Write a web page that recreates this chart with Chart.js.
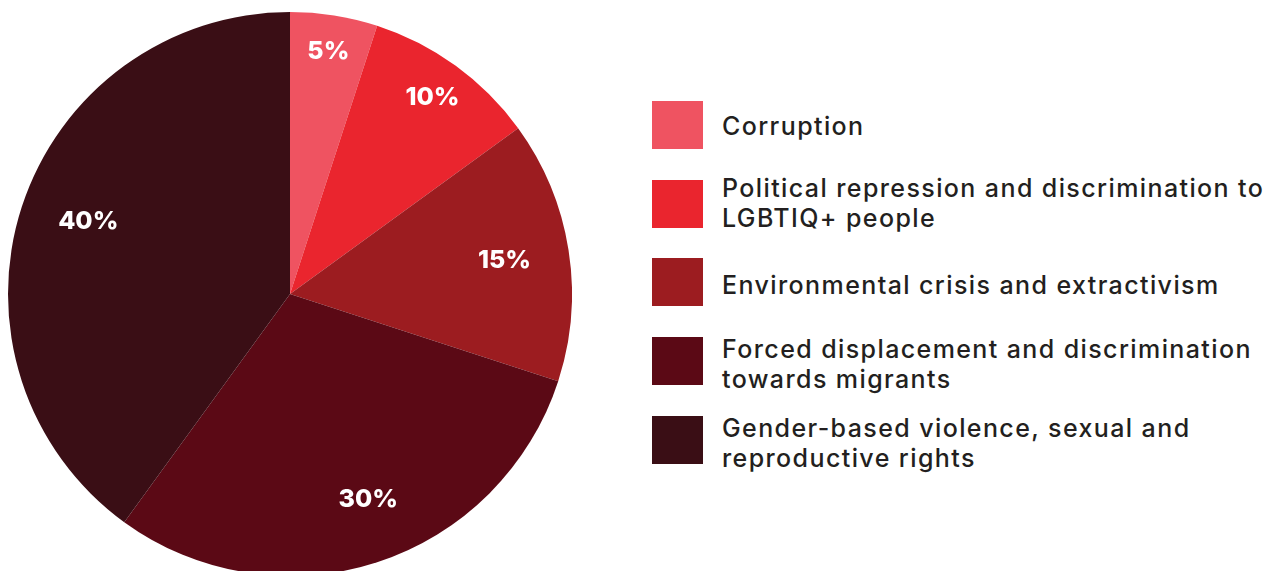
<!DOCTYPE html>
<html>
<head>
<meta charset="utf-8">
<script src="https://cdn.jsdelivr.net/npm/chart.js@4"></script>
<style>
	html, body { margin: 0; padding: 0; background: #fff; width: 1279px; height: 571px; overflow: hidden; }
	#pieBox { position: absolute; left: 8px; top: 12px; width: 564px; height: 564px; }
	#legend { position: absolute; left: 652px; top: 101px; font-family: "Inter", sans-serif; font-size: 25px; font-weight: 500; letter-spacing: 1.4px; color: #231f20; }
	.item { position: absolute; left: 0; width: 620px; }
	.swatch { position: absolute; left: 0; top: 0; width: 51px; height: 48px; }
	.label { position: absolute; left: 70px; line-height: 30px; white-space: nowrap; }
</style>
</head>
<body>
<div id="pieBox"><canvas id="pie"></canvas></div>
<div id="legend"></div>
<script>
const categories = [
	['Corruption'],
	['Political repression and discrimination to', 'LGBTIQ+ people'],
	['Environmental crisis and extractivism'],
	['Forced displacement and discrimination', 'towards migrants'],
	['Gender-based violence, sexual and', 'reproductive rights']
];
const shares = [5, 10, 15, 30, 40];
const colors = ['#ef5361', '#ea252e', '#9c1c20', '#5b0915', '#3a0e15'];

// where each percentage sits: fraction of the radius, and a nudge off the slice middle (radians)
const labelRadius = [0.87, 0.86, 0.77, 0.78, 0.76];
const labelNudge = [0, 0, 0, -0.05, 0.03];

const sliceLabels = {
	id: 'sliceLabels',
	afterDatasetsDraw(chart) {
		const ctx = chart.ctx;
		const meta = chart.getDatasetMeta(0);
		ctx.save();
		ctx.fillStyle = '#fff';
		ctx.font = '800 25px "Inter", sans-serif';
		ctx.textAlign = 'center';
		ctx.textBaseline = 'middle';
		meta.data.forEach(function(arc, i) {
			const p = arc.getProps(['x', 'y', 'startAngle', 'endAngle', 'outerRadius'], true);
			const mid = (p.startAngle + p.endAngle) / 2 + labelNudge[i];
			const r = p.outerRadius * labelRadius[i];
			ctx.fillText(shares[i] + '%', p.x + Math.cos(mid) * r, p.y + Math.sin(mid) * r);
		});
		ctx.restore();
	}
};

new Chart(document.getElementById('pie').getContext('2d'), {
	type: 'pie',
	data: {
		labels: categories.map(c => c.join(' ')),
		datasets: [{
			data: shares,
			backgroundColor: colors,
			borderWidth: 0
		}]
	},
	options: {
		responsive: true,
		maintainAspectRatio: false,
		animation: false,
		layout: { padding: 0 },
		plugins: {
			legend: { display: false },
			tooltip: { enabled: false }
		}
	},
	plugins: [sliceLabels]
});

// legend on the right: swatch tops and text offsets within each row
const tops = [0, 79, 157, 236, 315];
const textOffsets = [10, -7, 12, -3, -3];
const legend = document.getElementById('legend');
categories.forEach(function(lines, i) {
	const item = document.createElement('div');
	item.className = 'item';
	item.style.top = tops[i] + 'px';
	const sw = document.createElement('div');
	sw.className = 'swatch';
	sw.style.background = colors[i];
	const lab = document.createElement('div');
	lab.className = 'label';
	lab.style.top = textOffsets[i] + 'px';
	lab.innerHTML = lines.join('<br>');
	item.appendChild(sw);
	item.appendChild(lab);
	legend.appendChild(item);
});
</script>
</body>
</html>
